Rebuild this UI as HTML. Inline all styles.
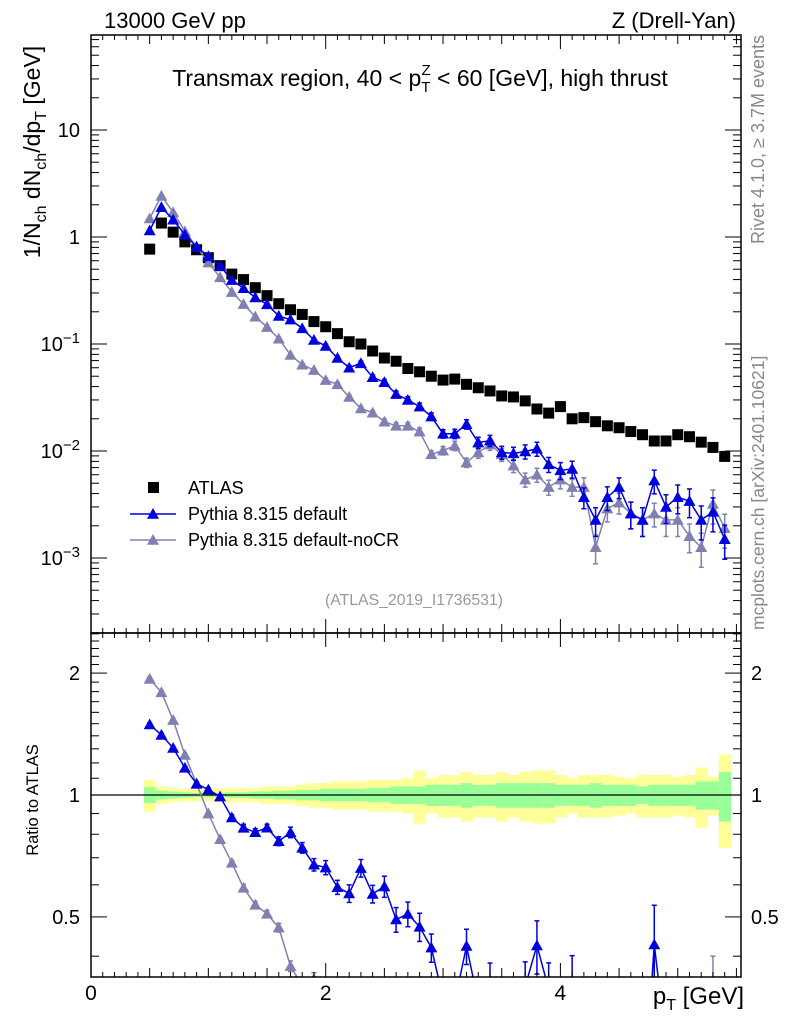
<!DOCTYPE html>
<html><head><meta charset="utf-8">
<style>
html,body{margin:0;padding:0;background:#fff;width:786px;height:1024px;overflow:hidden;}
svg{display:block;font-family:"Liberation Sans",sans-serif;}
</style></head>
<body>
<svg id="chart" width="786" height="1024" viewBox="0 0 786 1024" xmlns="http://www.w3.org/2000/svg">
<text x="104" y="28" font-size="22">13000 GeV pp</text>
<text x="736" y="28" font-size="22" text-anchor="end">Z (Drell-Yan)</text>
<text x="420" y="86" font-size="23" text-anchor="middle">Transmax region, 40 &lt; p<tspan font-size="15" dy="6">T</tspan><tspan font-size="15" dx="-9" dy="-17">Z</tspan><tspan dy="11"> &lt; 60 [GeV], high thrust</tspan></text>
<text transform="translate(40,152) rotate(-90)" font-size="23" text-anchor="middle">1/N<tspan font-size="16" dy="6">ch</tspan><tspan dy="-6"> dN</tspan><tspan font-size="16" dy="6">ch</tspan><tspan dy="-6">/dp</tspan><tspan font-size="16" dy="6">T</tspan><tspan dy="-6"> [GeV]</tspan></text>
<text transform="translate(764,35) rotate(-90)" font-size="18" fill="#888" text-anchor="end">Rivet 4.1.0, ≥ 3.7M events</text>
<text transform="translate(764,630) rotate(-90)" font-size="17.5" fill="#888">mcplots.cern.ch [arXiv:2401.10621]</text>
<text x="414" y="605" font-size="15.8" fill="#999" text-anchor="middle">(ATLAS_2019_I1736531)</text>
<text transform="translate(38,800) rotate(-90)" font-size="16.5" text-anchor="middle">Ratio to ATLAS</text>
<text x="744" y="1004" font-size="24" text-anchor="end">p<tspan font-size="16" dy="6">T</tspan><tspan dy="-6"> [GeV]</tspan></text>
<g id="g"></g>
</svg>
<script>
const pts = [0.5,0.6,0.7,0.8,0.9,1.0,1.1,1.2,1.3,1.4,1.5,1.6,1.7,1.8,1.9,2.0,2.1,2.2,2.3,2.4,2.5,2.6,2.7,2.8,2.9,3.0,3.1,3.2,3.3,3.4,3.5,3.6,3.7,3.8,3.9,4.0,4.1,4.2,4.3,4.4,4.5,4.6,4.7,4.8,4.9,5.0,5.1,5.2,5.3,5.4];
const atlas = [0.77,1.35,1.11,0.90,0.76,0.64,0.54,0.45,0.40,0.336,0.283,0.238,0.209,0.189,0.162,0.145,0.125,0.105,0.100,0.086,0.074,0.069,0.059,0.055,0.050,0.046,0.047,0.042,0.039,0.0364,0.0327,0.0320,0.0294,0.0247,0.0226,0.026,0.020,0.0205,0.0188,0.0172,0.0165,0.0152,0.0142,0.0124,0.0124,0.0142,0.0136,0.0121,0.0108,0.0089];
const pyDefault = [1.15,1.90,1.45,1.05,0.81,0.66,0.535,0.396,0.332,0.272,0.235,0.183,0.169,0.140,0.109,0.096,0.074,0.060,0.066,0.049,0.044,0.034,0.030,0.026,0.021,0.0145,0.0145,0.0178,0.012,0.0125,0.0097,0.0095,0.0099,0.0105,0.0075,0.0066,0.0068,0.0037,0.00227,0.0037,0.0046,0.0026,0.00227,0.0053,0.0030,0.0037,0.0034,0.00227,0.0027,0.0015];
const pyNoCR = [1.49,2.42,1.70,1.13,0.81,0.576,0.42,0.306,0.236,0.180,0.144,0.112,0.079,0.064,0.057,0.046,0.042,0.032,0.025,0.0228,0.0188,0.0172,0.0172,0.0152,0.0093,0.0101,0.0112,0.0078,0.0097,0.0115,0.0093,0.0073,0.0054,0.0060,0.0046,0.0054,0.0046,0.0046,0.00126,0.0029,0.0033,0.0026,0.00227,0.0026,0.00227,0.00227,0.0016,0.00126,0.0032,0.0019];
const mcRelErr = [0.01,0.01,0.01,0.01,0.01,0.01,0.01,0.015,0.02,0.02,0.02,0.025,0.03,0.03,0.035,0.04,0.04,0.05,0.05,0.05,0.06,0.07,0.07,0.08,0.08,0.09,0.1,0.1,0.12,0.12,0.14,0.14,0.15,0.15,0.16,0.18,0.18,0.22,0.3,0.25,0.22,0.28,0.3,0.25,0.3,0.3,0.3,0.35,0.35,0.35];
const bandInner = [0.045,0.025,0.02,0.015,0.012,0.012,0.012,0.015,0.015,0.02,0.02,0.025,0.025,0.03,0.03,0.035,0.035,0.035,0.035,0.04,0.04,0.05,0.05,0.05,0.06,0.06,0.06,0.07,0.06,0.06,0.07,0.07,0.07,0.07,0.07,0.06,0.06,0.06,0.07,0.06,0.06,0.06,0.05,0.06,0.06,0.06,0.06,0.08,0.08,0.14];
const bandOuter = [0.09,0.05,0.04,0.035,0.035,0.035,0.04,0.04,0.04,0.04,0.05,0.05,0.05,0.06,0.07,0.07,0.08,0.08,0.08,0.09,0.09,0.09,0.1,0.15,0.1,0.12,0.12,0.14,0.12,0.12,0.14,0.12,0.14,0.15,0.15,0.12,0.1,0.12,0.12,0.12,0.11,0.1,0.12,0.12,0.12,0.11,0.12,0.17,0.11,0.26];
const xTicks = [0,2,4];
const mainTicks = [10,1,0.1,0.01,0.001];
const mainTickLabels = ["10","1","10^-1","10^-2","10^-3"];
const ratioTicks = [2,1,0.5];
const ratioTickLabels = ["2","1","0.5"];

const NS="http://www.w3.org/2000/svg";
const G=document.getElementById('g');
const L=91,R=741,T1=35,B1=633,T2=633,B2=977;
const X=v=>L+117.35*v;
const Ym=v=>237-107*Math.log10(v);
const Yr=v=>795-405*Math.log10(v);
function el(t,a,p){const e=document.createElementNS(NS,t);for(const k in a)e.setAttribute(k,a[k]);(p||G).appendChild(e);return e;}
const defs=el('defs',{});
const c1=el('clipPath',{id:'c1'},defs);el('rect',{x:L,y:T1,width:R-L,height:B1-T1},c1);
const c2=el('clipPath',{id:'c2'},defs);el('rect',{x:L,y:T2,width:R-L,height:B2-T2},c2);
const bands=el('g',{'clip-path':'url(#c2)'});


pts.forEach((p,i)=>{
  const x0=X(p-0.05),w=X(p+0.05)-x0;
  const r=el('rect',{x:x0,y:Yr(1+bandOuter[i]),width:w+0.5,height:Yr(1-bandOuter[i])-Yr(1+bandOuter[i]),fill:'#ffff99'},bands);
  
  
  const r2=el('rect',{x:x0,y:Yr(1+bandInner[i]),width:w+0.5,height:Yr(1-bandInner[i])-Yr(1+bandInner[i]),fill:'#99ff99'},bands);
  
  
});
el('line',{x1:L,x2:R,y1:Yr(1),y2:Yr(1),stroke:'#000','stroke-width':1.3});
function tri(x,y,s,col,parent){return el('polygon',{points:`${x},${y-s} ${x-s},${y+s*0.8} ${x+s},${y+s*0.8}`,fill:col},parent);}
function series(vals,col,Y,clip,name,ratio){
  const g=el('g',{'clip-path':clip});
  
  
  const v=vals.map((d,i)=>ratio?d/atlas[i]:d);
  el('polyline',{points:pts.map((p,i)=>X(p)+','+Y(v[i])).join(' '),fill:'none',stroke:col,'stroke-width':1.5},g);
  pts.forEach((p,i)=>{
    const x=X(p),e=mcRelErr[i];
    const ya=Y(v[i]*(1+e)),yb=Y(Math.max(v[i]*(1-e),1e-6));
    if(yb-ya>3){el('line',{x1:x,x2:x,y1:ya,y2:yb,stroke:col,'stroke-width':1.5},g);
      el('line',{x1:x-2.5,x2:x+2.5,y1:ya,y2:ya,stroke:col,'stroke-width':1.5},g);
      el('line',{x1:x-2.5,x2:x+2.5,y1:yb,y2:yb,stroke:col,'stroke-width':1.5},g);}
    const t=tri(x,Y(v[i]),6,col,g);
    
    
  });
}
const ga=el('g',{'clip-path':'url(#c1)'});


pts.forEach((p,i)=>{
  const s=el('rect',{x:X(p)-5.5,y:Ym(atlas[i])-5.5,width:11,height:11,fill:'#000'},ga);
  
  
});
series(pyNoCR,'#8080b3',Ym,'url(#c1)','pythia-nocr-series',false);
series(pyDefault,'#0000dd',Ym,'url(#c1)','pythia-default-series',false);
series(pyNoCR,'#8080b3',Yr,'url(#c2)','pythia-nocr-ratio',true);
series(pyDefault,'#0000dd',Yr,'url(#c2)','pythia-default-ratio',true);
const f1=el('rect',{x:L,y:T1,width:R-L,height:B1-T1,fill:'none',stroke:'#000','stroke-width':1.5});


const f2=el('rect',{x:L,y:T2,width:R-L,height:B2-T2,fill:'none',stroke:'#000','stroke-width':1.5});


for(let v=0;v<=5.5;v+=0.1){
  const x=X(v),maj=Math.abs(v*2-Math.round(v*2))<1e-6;
  const len=Math.abs(v-Math.round(v/2)*2)<1e-6?14:(maj?9:5);
  [[T1,1],[B1,-1],[T2,1],[B2,-1]].forEach(([y,d])=>el('line',{x1:x,x2:x,y1:y,y2:y+d*len,stroke:'#000','stroke-width':1}));
}
xTicks.forEach(v=>{const t=el('text',{x:X(v),y:977+23,'font-size':21,'text-anchor':'middle'});t.textContent=v;
  
  });
for(let d=-4;d<=1;d++)for(let m=1;m<10;m++){
  const y=Ym(m*Math.pow(10,d));if(y<T1||y>B1)continue;
  const len=m==1?16:8;
  el('line',{x1:L,x2:L+len,y1:y,y2:y,stroke:'#000'});el('line',{x1:R,x2:R-len,y1:y,y2:y,stroke:'#000'});
}
mainTicks.forEach((v,i)=>{
  const s=mainTickLabels[i],y=Ym(v)+7;
  const t=el('text',{x:80,y:y,'font-size':20,'text-anchor':'end'});
  
  
  if(s.includes('^')){const [b,e]=s.split('^');t.innerHTML=b+'<tspan font-size="15" dy="-8">'+e.replace('-','−')+'</tspan>';}
  else t.textContent=s;
});
[0.4,0.5,0.6,0.7,0.8,0.9,1,2].forEach(v=>{
  const y=Yr(v),len=(v==1||v==2||v==0.5)?16:8;
  el('line',{x1:L,x2:L+len,y1:y,y2:y,stroke:'#000'});el('line',{x1:R,x2:R-len,y1:y,y2:y,stroke:'#000'});
});
for(let k=11;k<=25;k++){const v=k/10;if(v==2)continue;const y=Yr(v);if(y<T2)continue;
  el('line',{x1:L,x2:L+8,y1:y,y2:y,stroke:'#000'});el('line',{x1:R,x2:R-8,y1:y,y2:y,stroke:'#000'});}
ratioTicks.forEach((v,i)=>{
  const a=el('text',{x:80,y:Yr(v)+7,'font-size':20,'text-anchor':'end'});a.textContent=ratioTickLabels[i];
  
  
  const b=el('text',{x:751,y:Yr(v)+7,'font-size':20});b.textContent=ratioTickLabels[i];
  
  
});
const lg=el('g',{});


el('rect',{x:148,y:482,width:11,height:11,fill:'#000'},lg);
[['ATLAS',494],['Pythia 8.315 default',520],['Pythia 8.315 default-noCR',546]].forEach(([s,y],i)=>{
  const t=el('text',{x:188,y:y,'font-size':18},lg);t.textContent=s;
  
  
  if(i>0){const c=i==1?'#0000dd':'#8080b3';el('line',{x1:130,x2:176,y1:y-6,y2:y-6,stroke:c,'stroke-width':1.5},lg);tri(153,y-6,6,c,lg);}
});
</script>
</body></html>
